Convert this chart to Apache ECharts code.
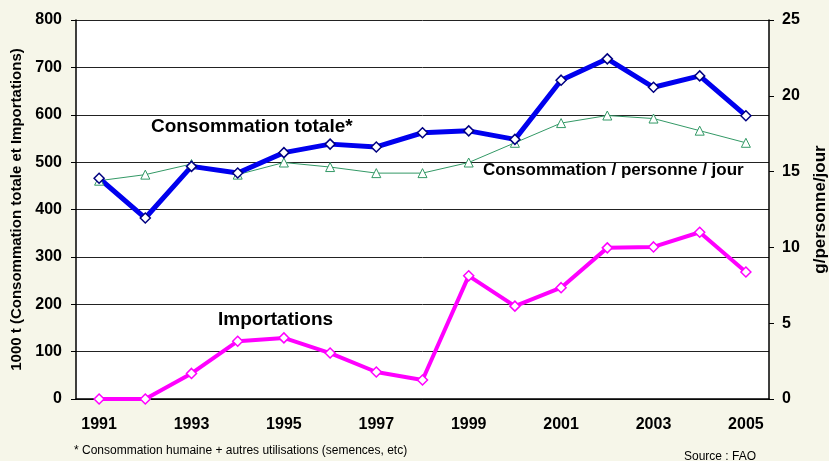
<!DOCTYPE html>
<html>
<head>
<meta charset="utf-8">
<script src="https://cdn.jsdelivr.net/npm/echarts@6/dist/echarts.min.js"></script>
<style>
  html, body { margin: 0; padding: 0; }
  #chart { width: 829px; height: 461px; background: #f6f6e9; }
</style>
</head>
<body>
<div id="chart"></div>
<script>
// donnees (FAO)
const years = ['1991','1992','1993','1994','1995','1996','1997','1998','1999','2000','2001','2002','2003','2004','2005'];
const consoTotale = [466, 382, 491, 477, 520, 538, 532, 562, 566, 548, 673, 718, 658, 682, 598];
const importations = [0, 0, 54, 122, 129, 97, 57, 40, 260, 196, 235, 319, 321, 352, 268];
const consoPersonne = [14.4, 14.8, 15.5, 14.8, 15.6, 15.3, 14.9, 14.9, 15.6, 16.9, 18.2, 18.7, 18.5, 17.7, 16.9];
const leftTicks = [0, 800, 100];
const rightTicks = [0, 25, 5];

const font = 'Liberation Sans, Arial, sans-serif';
let chart = echarts.init(document.getElementById('chart'));

let option = {
  animation: false,
  backgroundColor: '#f6f6e9',
  grid: {
    left: 76, right: 60, top: 20, bottom: 62,
    containLabel: false,
    outerBoundsMode: 'none',
    show: true, backgroundColor: '#ffffff', borderWidth: 0
  },
  xAxis: {
    type: 'category',
    data: years,
    boundaryGap: true,
    axisLine: { lineStyle: { color: '#000', width: 1.5 } },
    axisTick: { interval: 0, length: 5, lineStyle: { color: '#000', width: 1.5 } },
    axisLabel: { interval: 1, color: '#000', fontFamily: font, fontWeight: 'bold', fontSize: 16, margin: 18 }
  },
  yAxis: [
    {
      type: 'value',
      min: leftTicks[0], max: leftTicks[1], interval: leftTicks[2],
      name: '1000 t (Consommation totale et Importations)',
      nameLocation: 'middle',
      nameGap: 49,
      nameTextStyle: { color: '#000', fontFamily: font, fontWeight: 'bold', fontSize: 15 },
      axisLine: { show: true, lineStyle: { color: '#000', width: 1.5 } },
      axisTick: { show: true, length: 5, lineStyle: { color: '#000' } },
      axisLabel: { color: '#000', fontFamily: font, fontWeight: 'bold', fontSize: 16, margin: 14 },
      splitLine: { lineStyle: { color: '#222', width: 1 } }
    },
    {
      type: 'value',
      min: rightTicks[0], max: rightTicks[1], interval: rightTicks[2],
      name: 'g/personne/jour',
      nameLocation: 'middle',
      nameGap: 43,
      nameTextStyle: { color: '#000', fontFamily: font, fontWeight: 'bold', fontSize: 17 },
      axisLine: { show: true, lineStyle: { color: '#000', width: 1.5 } },
      axisTick: { show: true, length: 5, lineStyle: { color: '#000' } },
      axisLabel: { color: '#000', fontFamily: font, fontWeight: 'bold', fontSize: 16, margin: 13 },
      splitLine: { show: false }
    }
  ],
  series: [
    {
      name: 'Consommation / personne / jour',
      type: 'line',
      yAxisIndex: 1,
      data: consoPersonne,
      symbol: 'triangle',
      symbolSize: 9,
      lineStyle: { color: '#339966', width: 1 },
      itemStyle: { color: '#ffffff', borderColor: '#339966', borderWidth: 1 }
    },
    {
      name: 'Consommation totale',
      type: 'line',
      data: consoTotale,
      symbol: 'diamond',
      symbolSize: 10,
      lineStyle: { color: '#0000ee', width: 5 },
      itemStyle: { color: '#ffffff', borderColor: '#000080', borderWidth: 1.5 }
    },
    {
      name: 'Importations',
      type: 'line',
      data: importations,
      symbol: 'diamond',
      symbolSize: 10,
      lineStyle: { color: '#ff00ff', width: 4 },
      itemStyle: { color: '#ffffff', borderColor: '#ff00ff', borderWidth: 1.5 }
    }
  ],
  graphic: [
    { type: 'text', left: 151, top: 117, style: { text: 'Consommation totale*', font: 'bold 19px ' + font, fill: '#000' } },
    { type: 'text', left: 483, top: 162, style: { text: 'Consommation / personne / jour', font: 'bold 17px ' + font, fill: '#000' } },
    { type: 'text', left: 218, top: 310, style: { text: 'Importations', font: 'bold 19px ' + font, fill: '#000' } },
    { type: 'text', left: 74, top: 445, style: { text: '* Consommation humaine + autres utilisations (semences, etc)', font: '12px ' + font, fill: '#000' } },
    { type: 'text', left: 684, top: 451, style: { text: 'Source : FAO', font: '12px ' + font, fill: '#000' } }
  ]
};

option && chart.setOption(option);
</script>
</body>
</html>
